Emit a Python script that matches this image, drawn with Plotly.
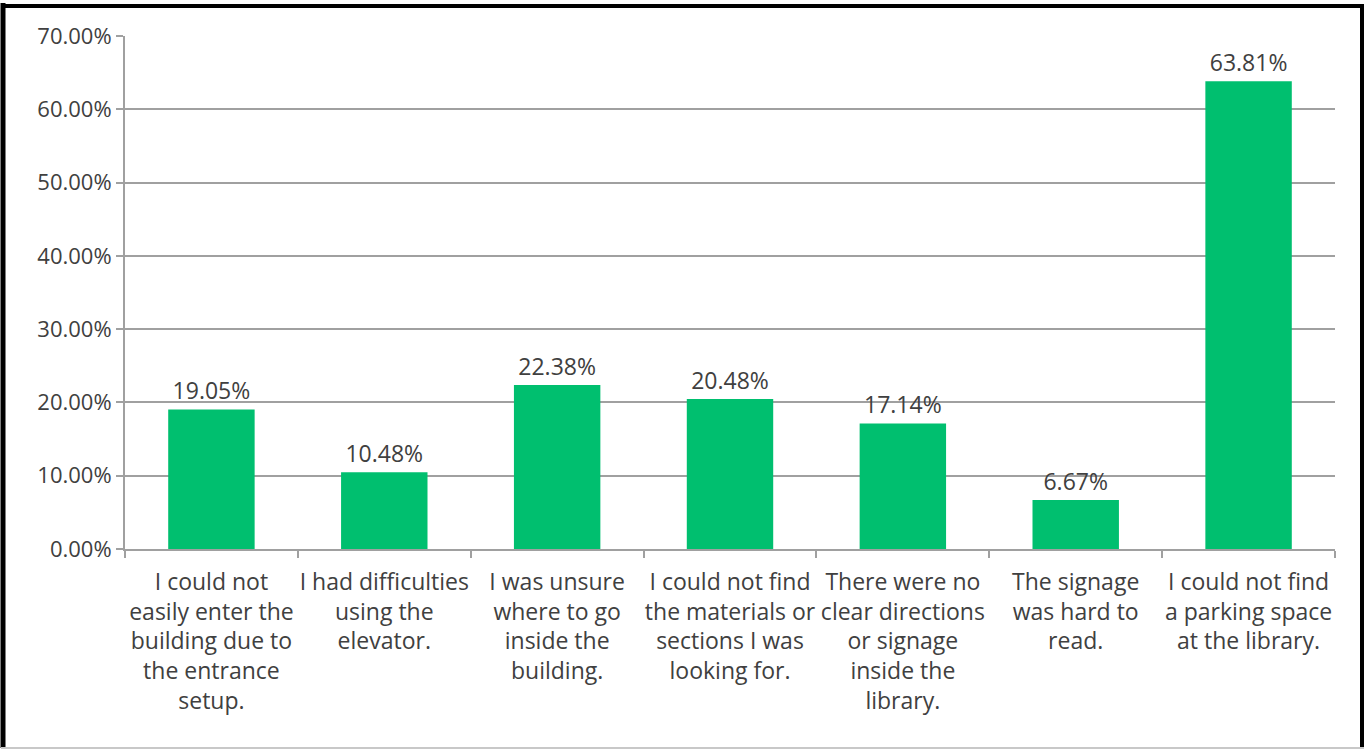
import plotly.graph_objects as go

categories = [
    "I could not<br>easily enter the<br>building due to<br>the entrance<br>setup.",
    "I had difficulties<br>using the<br>elevator.",
    "I was unsure<br>where to go<br>inside the<br>building.",
    "I could not find<br>the materials or<br>sections I was<br>looking for.",
    "There were no<br>clear directions<br>or signage<br>inside the<br>library.",
    "The signage<br>was hard to<br>read.",
    "I could not find<br>a parking space<br>at the library.",
]
values = [0.1905, 0.1048, 0.2238, 0.2048, 0.1714, 0.0667, 0.6381]
labels = ["19.05%", "10.48%", "22.38%", "20.48%", "17.14%", "6.67%", "63.81%"]

FONT = "Open Sans"
TXT = "#404040"

fig = go.Figure(go.Bar(
    x=categories, y=values, text=labels, textposition="outside",
    marker=dict(color="#00BF6F", line=dict(width=0)),
    textfont=dict(size=23, color=TXT, family=FONT),
    cliponaxis=False,
))

L, R, T, B = 125, 32, 36, 201
W, H = 1367, 750
pw, ph = W - L - R, H - T - B

def px(x):
    return (x - L) / pw

def py(y):
    return (H - B - y) / ph

fig.update_layout(
    width=W, height=H,
    margin=dict(l=L, r=R, t=T, b=B, autoexpand=False),
    paper_bgcolor="white", plot_bgcolor="white",
    bargap=0.5,
    showlegend=False,
    font=dict(family=FONT, color=TXT),
    xaxis=dict(
        type="category", tickson="boundaries", ticks="outside", ticklen=7,
        tickcolor="#A0A0A0", tickwidth=2, showline=True, linecolor="#A0A0A0", linewidth=2,
        tickfont=dict(size=23, color=TXT, family=FONT),
        tickangle=0, automargin=False,
        ticklabelstandoff=11,
        showgrid=False,
    ),
    yaxis=dict(
        range=[0, 0.7], dtick=0.1, tickformat=".2%", ticks="outside", ticklen=7,
        tickcolor="#A0A0A0", tickwidth=2, showline=True, linecolor="#A0A0A0", linewidth=2,
        gridcolor="#A0A0A0", gridwidth=2, zeroline=False, automargin=False,
        tickfont=dict(size=22, color=TXT, family=FONT),
    ),
    shapes=[
        dict(type="line", xref="paper", yref="paper", x0=px(3), x1=px(3), y0=py(3), y1=py(748), line=dict(color="black", width=5)),
        dict(type="line", xref="paper", yref="paper", x0=px(1), x1=px(1364), y0=py(6), y1=py(6), line=dict(color="black", width=4)),
        dict(type="line", xref="paper", yref="paper", x0=px(1362), x1=px(1362), y0=py(4), y1=py(748), line=dict(color="black", width=4)),
        dict(type="line", xref="paper", yref="paper", x0=px(1), x1=px(1364), y0=py(748), y1=py(748), line=dict(color="#C8C8C8", width=2)),
    ],
)

fig.write_html("out.html", config={"displayModeBar": False},
               post_script="document.body.style.margin='0';document.body.style.overflow='hidden';")
